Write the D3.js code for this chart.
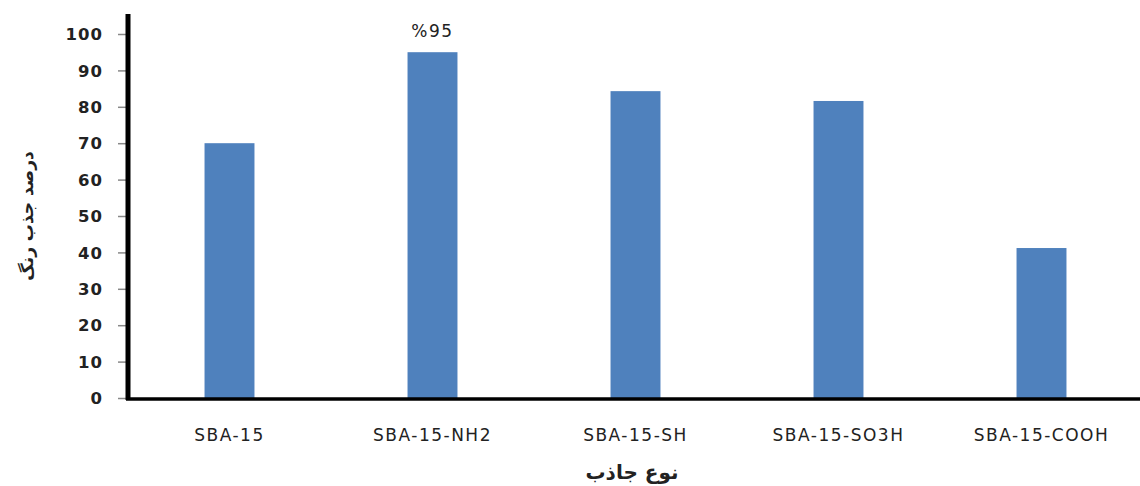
<!DOCTYPE html>
<html lang="fa">
<head>
<meta charset="UTF-8"/>
<title>chart</title>
<script src="https://d3js.org/d3.v7.min.js"></script>
<style>
  body { margin: 0; background: #fff; }
  text { font-family: "DejaVu Sans", Arial, sans-serif; fill: #222; }
</style>
</head>
<body>
<svg id="chart" width="1140" height="486"></svg>
<script>
// data
var categories = ["SBA-15", "SBA-15-NH2", "SBA-15-SH", "SBA-15-SO3H", "SBA-15-COOH"]
var values = [70, 95, 84.3, 81.6, 41.2]
var yTicks = [0, 10, 20, 30, 40, 50, 60, 70, 80, 90, 100]
var yTitle = "درصد جذب رنگ"
var xTitle = "نوع جاذب"
var peakLabel = "%95"

var svg = d3.select("#chart")

var x0 = 128, x1 = 1143, yBase = 398, yTop = 34

var x = d3.scaleBand()
  .domain(categories)
  .range([x0, x1])
  .paddingInner(0.754)
  .paddingOuter(0.377)

var y = d3.scaleLinear()
  .domain([0, 100])
  .range([yBase, yTop])

// bars
svg.selectAll(".bar")
  .data(values)
  .enter()
  .append("rect")
    .attr("class", "bar")
    .attr("x", function(d, i) { return x(categories[i]) })
    .attr("y", function(d) { return y(d) })
    .attr("width", x.bandwidth())
    .attr("height", function(d) { return yBase - y(d) })
    .attr("fill", "#4F81BD")

// y axis
var yAxis = svg.append("g")
  .attr("transform", "translate(" + x0 + ",0)")
  .call(d3.axisLeft(y).tickValues(yTicks).tickSize(10).tickPadding(15))
yAxis.select(".domain").remove()
yAxis.selectAll(".tick line").attr("stroke", "#888").attr("stroke-width", 1.5)
yAxis.selectAll(".tick text")
  .style("font-size", "16.5px")
  .style("font-weight", "bold")
  .style("letter-spacing", "1px")
  .attr("fill", "#222")
  .attr("dy", "0.35em")

svg.append("line")
  .attr("x1", x0).attr("x2", x0)
  .attr("y1", 14).attr("y2", yBase + 2)
  .attr("stroke", "#000").attr("stroke-width", 5)

// x axis
svg.append("line")
  .attr("x1", x0 - 2).attr("x2", 1140)
  .attr("y1", yBase + 1).attr("y2", yBase + 1)
  .attr("stroke", "#000").attr("stroke-width", 3.5)

svg.selectAll(".xlab")
  .data(categories)
  .enter()
  .append("text")
    .attr("x", function(d) { return x(d) + x.bandwidth() / 2 })
    .attr("y", 441)
    .attr("text-anchor", "middle")
    .style("font-size", "17px")
    .style("letter-spacing", "1.5px")
    .text(function(d) { return d })

// label over the tallest bar
var iMax = d3.maxIndex(values)
svg.append("text")
  .attr("x", x(categories[iMax]) + x.bandwidth() / 2)
  .attr("y", y(values[iMax]) - 15)
  .attr("text-anchor", "middle")
  .style("font-size", "17px")
  .style("letter-spacing", "1.5px")
  .text(peakLabel)

// titles
svg.append("text")
  .attr("transform", "translate(33,216) rotate(-90)")
  .attr("text-anchor", "middle")
  .style("font-size", "17px")
  .style("font-weight", "bold")
  .text(yTitle)

svg.append("text")
  .attr("x", 632)
  .attr("y", 479)
  .attr("text-anchor", "middle")
  .style("font-size", "20px")
  .style("font-weight", "bold")
  .text(xTitle)
</script>
</body>
</html>
